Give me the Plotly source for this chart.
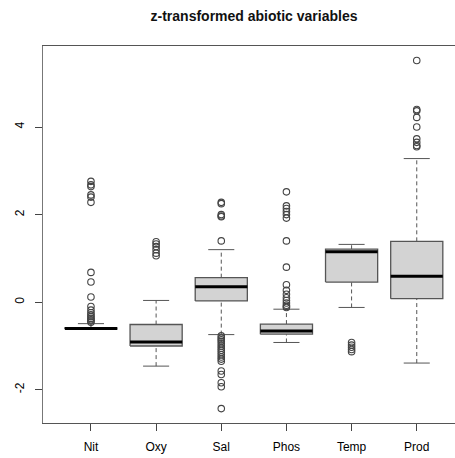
import plotly.graph_objects as go

# Summary statistics of the z-transformed abiotic variables
variables = ["Nit", "Oxy", "Sal", "Phos", "Temp", "Prod"]
whisker_low = [-0.62, -1.46, -0.74, -0.92, -0.12, -1.39]
q1 = [-0.615, -1.00, 0.03, -0.73, 0.46, 0.08]
median = [-0.60, -0.91, 0.35, -0.66, 1.15, 0.59]
q3 = [-0.585, -0.51, 0.56, -0.50, 1.21, 1.39]
whisker_high = [-0.49, 0.04, 1.20, -0.16, 1.32, 3.28]

outliers = {
    "Nit": [2.76, 2.68, 2.64, 2.45, 2.40, 2.28, 0.68, 0.46, 0.12, -0.10,
            -0.18, -0.24, -0.29, -0.33, -0.37, -0.40, -0.43, -0.46],
    "Oxy": [1.38, 1.33, 1.27, 1.20, 1.12, 1.06],
    "Sal": [2.28, 2.25, 2.00, 1.97, 1.95, 1.40, -0.77, -0.82, -0.86, -0.90,
            -0.95, -1.00, -1.05, -1.10, -1.15, -1.20, -1.25, -1.30, -1.35,
            -1.57, -1.65, -1.84, -1.93, -2.43],
    "Phos": [2.52, 2.20, 2.14, 2.07, 2.00, 1.92, 1.40, 0.80, 0.40, 0.27,
             0.18, 0.10, 0.04, -0.02, -0.07, -0.10, -0.12],
    "Temp": [-0.92, -0.98, -1.03, -1.08, -1.13],
    "Prod": [5.52, 4.40, 4.37, 4.22, 4.00, 3.73, 3.65, 3.58, 3.55],
}

y_ticks = [-2, 0, 2, 4]
title_text = "z-transformed abiotic variables"

BOX_HALF = 0.4
CAP_HALF = 0.2
EDGE = "#555555"
FILL = "#d3d3d3"

fig = go.Figure()

for i, name in enumerate(variables):
    x = i + 1
    # dashed whiskers
    for a, b in ((whisker_low[i], q1[i]), (q3[i], whisker_high[i])):
        fig.add_trace(go.Scatter(
            x=[x, x], y=[a, b], mode="lines",
            line=dict(color=EDGE, width=1, dash="4px,3px"),
            showlegend=False, hoverinfo="skip"))
    # whisker staples
    for v in (whisker_low[i], whisker_high[i]):
        fig.add_trace(go.Scatter(
            x=[x - CAP_HALF, x + CAP_HALF], y=[v, v], mode="lines",
            line=dict(color=EDGE, width=1),
            showlegend=False, hoverinfo="skip"))
    # box body
    fig.add_trace(go.Scatter(
        x=[x - BOX_HALF, x + BOX_HALF, x + BOX_HALF, x - BOX_HALF, x - BOX_HALF],
        y=[q1[i], q1[i], q3[i], q3[i], q1[i]],
        mode="lines", fill="toself", fillcolor=FILL,
        line=dict(color=EDGE, width=1.3),
        showlegend=False, hoverinfo="skip"))
    # median bar
    fig.add_trace(go.Scatter(
        x=[x - BOX_HALF, x + BOX_HALF], y=[median[i], median[i]], mode="lines",
        line=dict(color="black", width=3),
        showlegend=False, hoverinfo="skip"))
    # outlying points
    pts = outliers[name]
    fig.add_trace(go.Scatter(
        x=[x] * len(pts), y=pts, mode="markers",
        marker=dict(symbol="circle-open", size=6.5, color="#444444",
                    line=dict(width=1.1, color="#444444")),
        showlegend=False, hoverinfo="skip"))

fig.update_layout(
    width=455, height=458,
    margin=dict(l=43, r=0, t=46, b=35),
    paper_bgcolor="white", plot_bgcolor="white",
    font=dict(family="Liberation Sans, Arial, sans-serif", size=12, color="black"),
    title=dict(text="<b>" + title_text + "</b>", x=254 / 455, xanchor="center",
               y=1 - 16 / 458, yanchor="middle",
               font=dict(size=14, color="#111111")),
    xaxis=dict(range=[0.264, 6.587], tickmode="array",
               tickvals=list(range(1, len(variables) + 1)), ticktext=variables,
               showgrid=False, zeroline=False, showline=True, mirror=True,
               linecolor="#555555", linewidth=1.2,
               ticks="outside", ticklen=7, tickcolor="#444444",
               ticklabelstandoff=5),
    yaxis=dict(range=[-2.759, 5.851], tickmode="array", tickvals=y_ticks,
               ticktext=[str(t) for t in y_ticks], tickangle=-90,
               showgrid=False, zeroline=False, showline=True,
               linecolor="#777777", linewidth=1.3,
               ticks="outside", ticklen=7, tickcolor="#444444",
               ticklabelstandoff=6),
)

fig.write_html("out.html")
